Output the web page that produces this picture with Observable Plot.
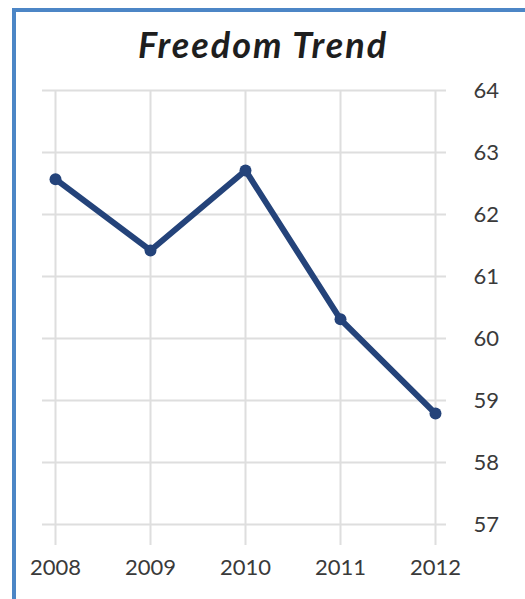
<!DOCTYPE html>
<html>
<head>
<meta charset="utf-8">
<script src="https://cdn.jsdelivr.net/npm/d3@7"></script>
<script src="https://cdn.jsdelivr.net/npm/@observablehq/plot@0.6"></script>
<style>
  html, body { margin: 0; padding: 0; background: #fff; }
  body { width: 525px; height: 599px; overflow: hidden; position: relative; }
  #frame {
    position: absolute; left: 12px; top: 8px; width: 700px; height: 800px;
    border-left: 4px solid #4c86c6; border-top: 4px solid #4c86c6;
    box-sizing: border-box;
  }
  #title {
    position: absolute; left: 0; top: 22px; width: 526px; text-align: center;
    font-family: Lato, "Open Sans", sans-serif; font-style: italic; font-weight: 700;
    font-size: 36px; line-height: 44px; letter-spacing: 2px; color: #1e1e1e;
  }
  #chart { position: absolute; left: 0; top: 70px; }
</style>
</head>
<body>
<div id="frame"></div>
<div id="title">Freedom Trend</div>
<div id="chart"></div>
<script>
// Freedom score by year
const years = ["2008", "2009", "2010", "2011", "2012"];
const freedomScore = [62.57, 61.42, 62.71, 60.31, 58.79];
const yTicks = [57, 58, 59, 60, 61, 62, 63, 64];

const data = years.map((year, i) => ({year, score: freedomScore[i]}));

const lineColor = "#24437a";
const gridColor = "#dedede";

const chart = Plot.plot({
  width: 525,
  height: 529,
  marginTop: 20,
  marginBottom: 54,
  marginLeft: 42,
  marginRight: 79,
  style: {fontFamily: "Lato, 'Open Sans', sans-serif", fontSize: "22px", color: "#3a3a3a", background: "transparent"},
  x: {type: "point", domain: years, range: [55, 435], padding: 0, label: null},
  y: {domain: [57, 64], range: [454, 20], label: null},
  marks: [
    Plot.ruleY(yTicks, {stroke: gridColor, strokeWidth: 2}),
    Plot.ruleX(years, {stroke: gridColor, strokeWidth: 2}),
    Plot.axisY(yTicks, {anchor: "right", tickSize: 0, tickPadding: 27, tickFormat: d => String(d), label: null}),
    Plot.axisX(years, {anchor: "bottom", tickSize: 0, tickPadding: 14, label: null}),
    Plot.line(data, {x: "year", y: "score", stroke: lineColor, strokeWidth: 6, strokeLinejoin: "round"}),
    Plot.dot(data, {x: "year", y: "score", r: 6, fill: lineColor, stroke: null})
  ]
});
document.getElementById("chart").appendChild(chart);
</script>
</body>
</html>
